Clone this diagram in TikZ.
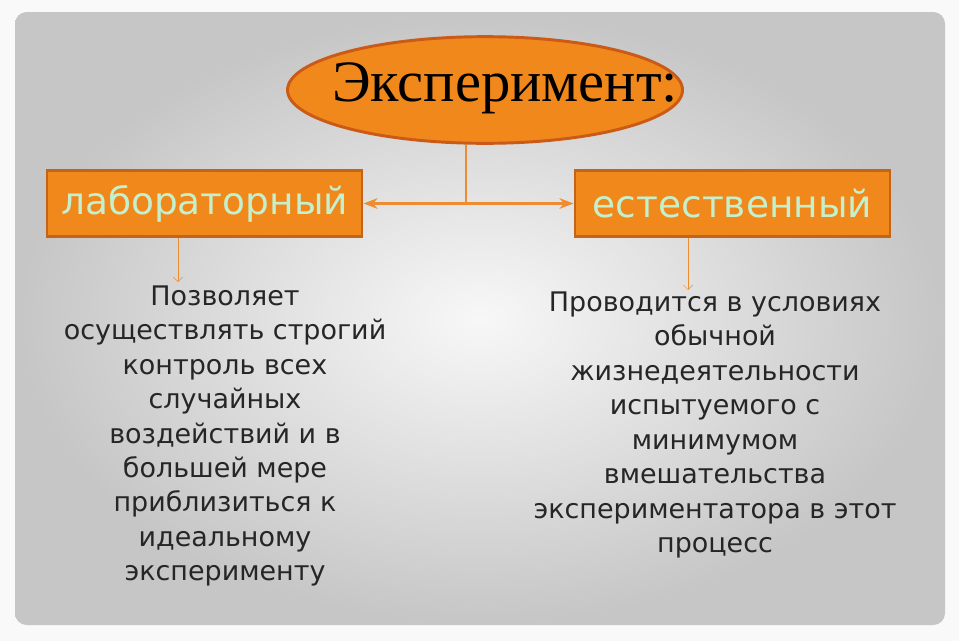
\documentclass[tikz,border=0pt]{standalone}
\usepackage{fontspec}
\setmainfont{DejaVu Sans}
\newfontfamily\titlefont{Liberation Serif}
\usetikzlibrary{positioning, arrows.meta, shapes.geometric, shadings}
\definecolor{boxorange}{RGB}{240,136,28}
\definecolor{boxedge}{RGB}{196,100,24}
\definecolor{lighttext}{RGB}{196,240,205}
\definecolor{linkorange}{RGB}{238,140,50}
\tikzset{
  kind/.style={rectangle, draw=boxedge, line width=2.5pt, fill=boxorange,
    minimum width=9.45cm, minimum height=2cm, text=lighttext, inner sep=0pt,
    font=\fontsize{32}{34}\selectfont},
  note/.style={align=center, text=black!85, font=\fontsize{23}{29.4}\selectfont}
}
\begin{document}
\begin{tikzpicture}[x=0.03cm, y=-0.03cm, >=Stealth]
    \useasboundingbox (0,0) rectangle (959,641);
    \fill[white!95!gray] (0,0) rectangle (959,641);
    \shade[rounded corners=10pt, inner color=gray!6, outer color=gray!45]
        (15,12) rectangle (945,625);

    % Top
    \node[ellipse, draw=boxedge!90!red, line width=2.5pt, fill=boxorange,
        minimum width=11.85cm, minimum height=3.2cm, inner sep=0pt] (exp) at (485,90) {};
    \node[font=\titlefont\fontsize{50}{52}\selectfont] (title) at (505,88) {Эксперимент:};

    % Kinds
    \node[kind] (lab) at (204.5,203.5) {лабораторный};
    \node[kind] (nat) at (732.5,203.5) {естественный};

    \coordinate (fork) at (466,203.5);
    \draw[linkorange, line width=2pt] (exp.south -| fork) -- (fork);
    \draw[linkorange, line width=2pt, <->] (lab.east) -- (nat.west);

    % Descriptions
    \node[note] (labtext) at (225,436) {Позволяет\\осуществлять строгий\\контроль всех\\случайных\\воздействий и в\\большей мере\\приблизиться к\\идеальному\\эксперименту};
    \node[note] (nattext) at (715,425) {Проводится в условиях\\обычной\\жизнедеятельности\\испытуемого с\\минимумом\\вмешательства\\экспериментатора в этот\\процесс};

    \coordinate (labend) at (178,282);
    \coordinate (natend) at (688,290);
    \draw[linkorange, ->, >={Straight Barb[length=4pt]}] (lab.south -| labend) -- (labend);
    \draw[linkorange, ->, >={Straight Barb[length=4pt]}] (nat.south -| natend) -- (natend);
\end{tikzpicture}
\end{document}
